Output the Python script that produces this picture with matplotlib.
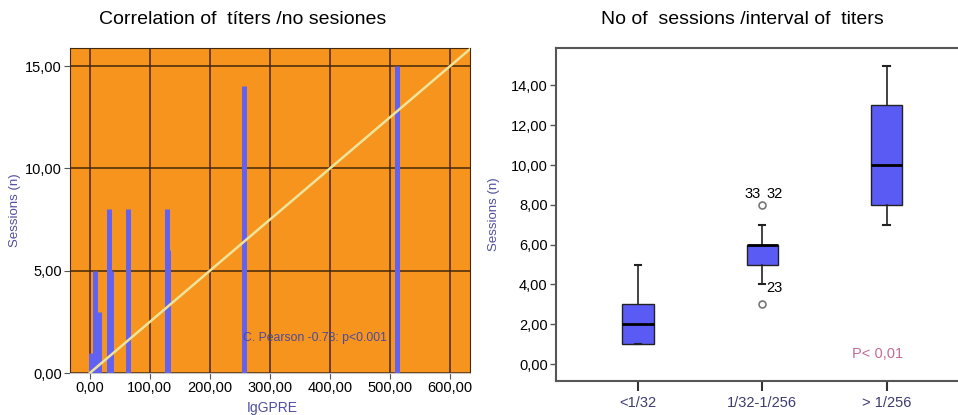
import matplotlib
matplotlib.use("Agg")
import matplotlib.pyplot as plt
import numpy as np

plt.rcParams['font.family'] = ['Liberation Sans', 'DejaVu Sans']

# left panel: titer vs sessions
titers = [2, 8, 16, 32, 35, 64, 128, 130, 256, 512]
sessions = [1, 5, 3, 8, 5, 8, 8, 6, 14, 15]
fit_x = [0, 640]
fit_slope = 1 / 40.0
pearson_text = "C. Pearson -0.78: p<0.001"

# right panel: box stats per titer interval
groups = ["<1/32", "1/32-1/256", "> 1/256"]
q1 = [1, 5, 8]
med = [2, 6, 10]
q3 = [3, 6, 13]
wlo = [1, 4, 7]
whi = [5, 7, 15]
outliers = [[], [8, 3], []]
outlier_labels = [("33", 2, 8), ("32", 2, 8), ("23", 2, 3)]

fig = plt.figure(figsize=(9.58, 4.15), dpi=100)

orange = '#f7941d'
grid_c = '#42280c'
bar_c = '#6262f2'
lbl_c = '#4f4fa0'
tick_fs = 10.5

def comma(vals):
    return [f"{v:.2f}".replace('.', ',') for v in vals]

# ---- left
ax = fig.add_axes([70/958, 42/415, 400/958, 325/415])
ax.set_facecolor(orange)
ax.set_xlim(-33, 633)
ax.set_ylim(0, 15.88)
ax.set_xticks(np.arange(0, 601, 100))
ax.set_yticks([0, 5, 10, 15])
ax.set_xticklabels(comma(ax.get_xticks()), fontsize=tick_fs)
ax.set_yticklabels(comma(ax.get_yticks()), fontsize=tick_fs)
ax.grid(True, color=grid_c, lw=1.1)
ax.set_axisbelow(True)
for s in ax.spines.values():
    s.set_color(grid_c)
    s.set_linewidth(0.8)
ax.spines['bottom'].set_color('#c8c8c8')
ax.tick_params(length=4, width=0.8, color='#555555', pad=2)

ax.vlines(titers, 0, sessions, colors=bar_c, lw=3.6, zorder=3)
xs = np.array(fit_x)
ax.plot(xs, xs * fit_slope, color='#ece49a', lw=1.8, zorder=4)
ax.text(255, 1.55, pearson_text, fontsize=8.8, color='#4a4a9c', zorder=5)
ax.set_ylabel("Sessions (n)", color=lbl_c, fontsize=9.5, labelpad=3)
fig.text(272/958, 7/415, "IgGPRE", color=lbl_c, fontsize=10, ha='center', va='center')
fig.text(243/958, 395/415, "Correlation of  títers /no sesiones", fontsize=14,
         ha='center', va='center')

# ---- right
bx = fig.add_axes([556/958, 34/415, 430/958, 333/415])
bx.set_xlim(0.34, 3.80)
bx.set_ylim(-0.85, 15.88)
stats = []
for i in range(len(groups)):
    stats.append(dict(q1=q1[i], med=med[i], q3=q3[i], whislo=wlo[i], whishi=whi[i],
                      fliers=outliers[i], label=groups[i]))
pos = np.arange(1, len(groups) + 1)
bx.bxp(stats, positions=pos, widths=0.25, patch_artist=True, showfliers=True,
       boxprops=dict(facecolor='#5a5af5', edgecolor='#222222', lw=1),
       medianprops=dict(color='black', lw=2),
       whiskerprops=dict(color='#222222', lw=1.2),
       capprops=dict(color='#222222', lw=1.5),
       capwidths=0.05,
       flierprops=dict(marker='o', mfc='white', mec='#777777', ms=5, mew=1.2))
for lab, g, v in outlier_labels:
    dx = -0.08 if lab == "33" else 0.1
    dy = 0.55 if lab != "23" else 0.8
    bx.text(g + dx, v + dy, lab, fontsize=10.5, ha='center', va='center')
bx.text(2.93, 0.5, "P< 0,01", color='#c46a98', fontsize=10.5, ha='center', va='center')
bx.set_yticks(np.arange(0, 15, 2))
bx.set_yticklabels(comma(bx.get_yticks()), fontsize=tick_fs)
bx.set_xticks(pos)
bx.set_xticklabels(groups, fontsize=tick_fs, color='#3c3c70')
bx.tick_params(axis='y', length=4, width=1, color='#555555', pad=2)
bx.tick_params(axis='x', length=7, width=1.5, color='#333333', pad=4)
for s in bx.spines.values():
    s.set_color('#555555')
    s.set_linewidth(1.5)
bx.spines['right'].set_visible(False)
bx.set_ylabel("Sessions (n)", color=lbl_c, fontsize=9.5, labelpad=8)
fig.text(742/958, 395/415, "No of  sessions /interval of  titers", fontsize=14,
         ha='center', va='center')

fig.savefig("out.png", dpi=100)
